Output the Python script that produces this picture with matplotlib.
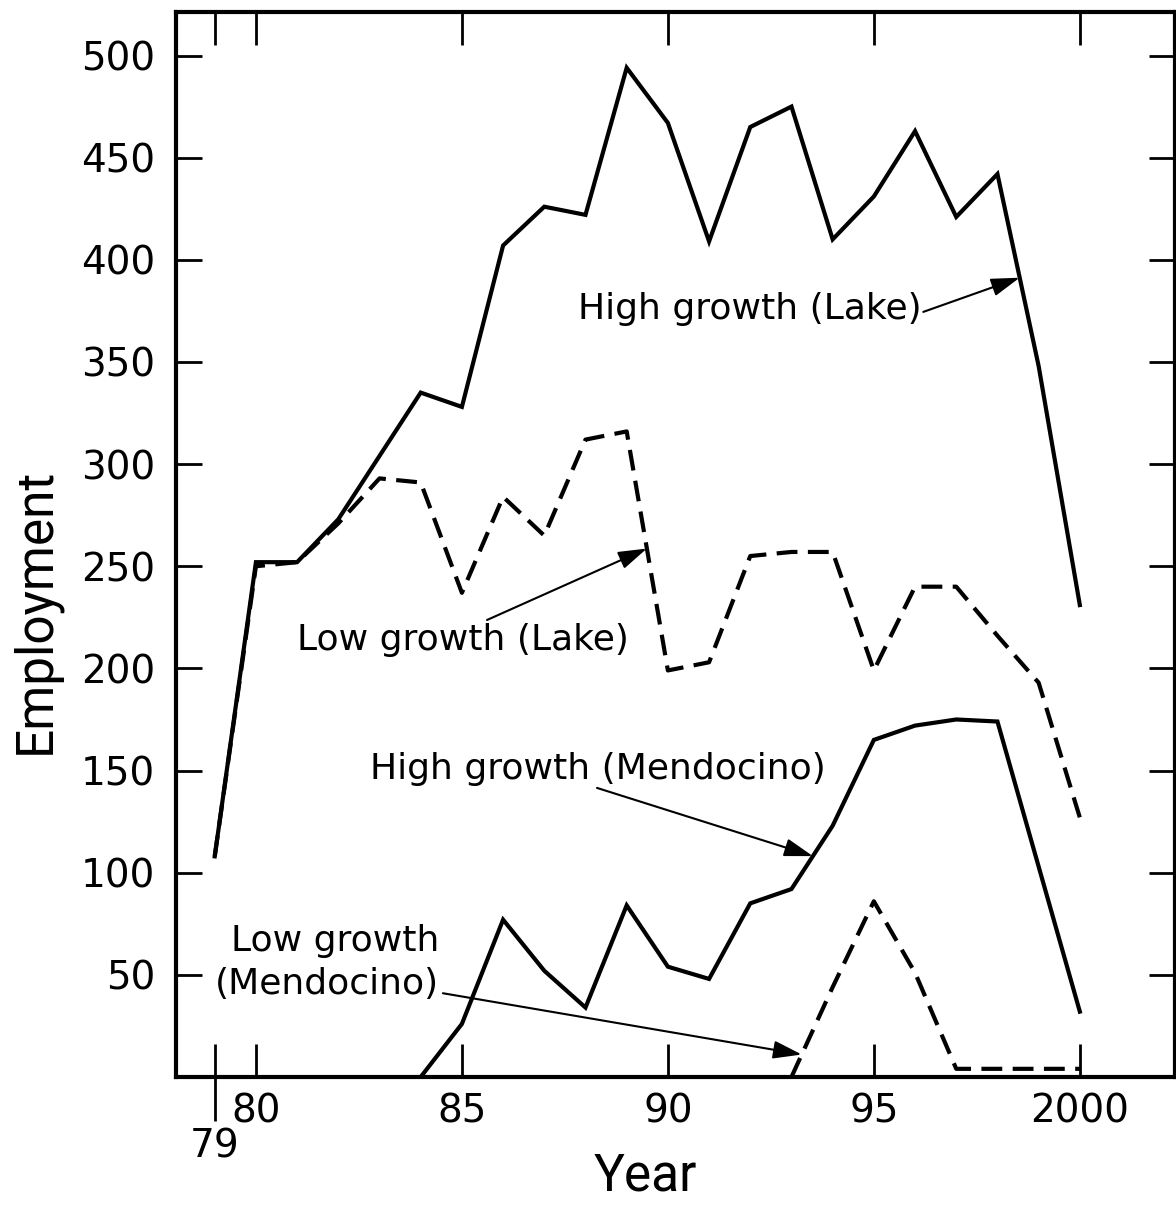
import matplotlib.pyplot as plt
import numpy as np

# employment projections
years = np.arange(1979, 2001)
high_lake = [108, 252, 252, 273, 304, 335, 328, 407, 426, 422, 494,
             467, 409, 465, 475, 410, 431, 463, 421, 442, 348, 231]
low_lake = [108, 250, 252, 271, 293, 291, 237, 284, 265, 312, 316,
            199, 203, 255, 257, 257, 199, 240, 240, 216, 193, 127]

mendo_years = np.arange(1984, 2001)
high_mendocino = [0, 26, 77, 52, 34, 84, 54, 48, 85, 92, 123,
                  165, 172, 175, 174, 103, 32]

low_mendo_years = np.arange(1993, 2001)
low_mendocino = [0, 44, 86, 51, 4, 4, 4, 4]

x_ticks = [1979, 1980, 1985, 1990, 1995, 2000]
x_tick_labels = ["", "80", "85", "90", "95", "2000"]
y_ticks = list(range(50, 501, 50))

TICK_FONT = "DejaVu Sans"
LABEL_FONT = "Roboto"
LINE_WIDTH = 3.0
DASHES = [5.0, 2.5]


def _arrow_to(axis, label_xy, series_x, series_y, at_year):
    target = (at_year, float(np.interp(at_year, series_x, series_y)))
    axis.annotate(
        "",
        xy=target,
        xytext=label_xy,
        arrowprops=dict(
            arrowstyle="-|>,head_length=0.7,head_width=0.22",
            mutation_scale=25,
            lw=1.5,
            color="black",
            shrinkA=0,
            shrinkB=0,
        ),
    )


figure = plt.figure(figsize=(11.76, 12.08), dpi=100)
axis = figure.add_axes([176 / 1176, 1 - 1077 / 1208, 999 / 1176, 1065 / 1208])

axis.plot(years, high_lake, color="black", lw=LINE_WIDTH, solid_joinstyle="miter")
axis.plot(years, low_lake, color="black", lw=LINE_WIDTH, dashes=DASHES)
axis.plot(mendo_years, high_mendocino, color="black", lw=LINE_WIDTH, solid_joinstyle="miter")
axis.plot(low_mendo_years, low_mendocino, color="black", lw=LINE_WIDTH, dashes=DASHES)

axis.set_xlim(1978.06, 2002.31)
axis.set_ylim(0, 521.3)

for side in ["left", "right", "top", "bottom"]:
    axis.spines[side].set_linewidth(3.0)

# 79 gets an inward tick like the others plus a longer outward one carrying its label
axis.xaxis.remove_overlapping_locs = False
axis.set_xticks(x_ticks)
axis.set_xticklabels(x_tick_labels)
axis.set_xticks([1979], minor=True)
axis.set_xticklabels(["79"], minor=True)
axis.set_yticks(y_ticks)

axis.tick_params(axis="x", which="major", direction="in", length=24, width=2.0,
                 top=True, bottom=True, pad=11, labelsize=28)
axis.tick_params(axis="x", which="minor", direction="out", length=32, width=2.0,
                 top=False, bottom=True, pad=4, labelsize=28)
axis.tick_params(axis="y", which="major", direction="in", length=19, width=2.0,
                 left=True, right=True, pad=15, labelsize=28)
for label in axis.get_xticklabels() + axis.get_yticklabels() + axis.get_xticklabels(minor=True):
    label.set_fontfamily(TICK_FONT)

axis.set_xlabel("Year", fontsize=37, family=LABEL_FONT, va="top")
axis.xaxis.set_label_coords(0.4695, -0.070)
axis.set_ylabel("Employment", fontsize=37, family=LABEL_FONT)
axis.yaxis.set_label_coords(-0.115, 0.438)

text_style = dict(fontsize=26, family=TICK_FONT, color="black")
axis.text(1992.0, 376, "High growth (Lake)", ha="center", va="center", **text_style)
axis.text(1985.02, 214, "Low growth (Lake)", ha="center", va="center", **text_style)
axis.text(1988.3, 151, "High growth (Mendocino)", ha="center", va="center", **text_style)
axis.text(1984.45, 56, "Low growth\n(Mendocino)", ha="right", va="center",
          multialignment="right", linespacing=1.35, **text_style)

_arrow_to(axis, (1996.2, 374.5), years, high_lake, 1998.54)
_arrow_to(axis, (1985.61, 223.7), years, low_lake, 1989.49)
_arrow_to(axis, (1988.28, 141.5), mendo_years, high_mendocino, 1993.52)
_arrow_to(axis, (1984.54, 41.0), low_mendo_years, low_mendocino, 1993.25)

figure.savefig("out.png", dpi=100)
plt.close(figure)
